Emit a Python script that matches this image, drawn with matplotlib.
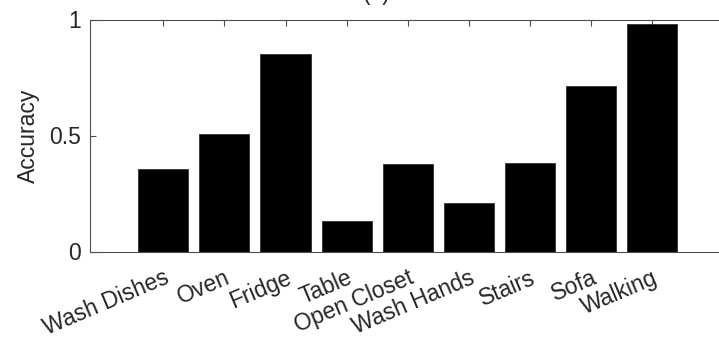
import matplotlib
matplotlib.use("Agg")
import matplotlib.pyplot as plt
import numpy as np

plt.rcParams['font.family'] = ['Liberation Sans', 'DejaVu Sans']

categories = ["Wash Dishes", "Oven", "Fridge", "Table", "Open Closet",
              "Wash Hands", "Stairs", "Sofa", "Walking"]
accuracy = [0.354, 0.505, 0.851, 0.133, 0.377, 0.209, 0.380, 0.715, 0.982]
yticks = [0, 0.5, 1]
yticklabels = ["0", "0.5", "1"]

W, H = 719, 339
fig = plt.figure(figsize=(W / 100, H / 100), dpi=100)
fig.patch.set_facecolor('white')

ax_left, ax_right = 90, 725.4
ax_top, ax_bottom = 19.5, 251.5
ax = fig.add_axes([ax_left / W, (H - ax_bottom) / H,
                   (ax_right - ax_left) / W, (ax_bottom - ax_top) / H])

x = np.arange(1, len(categories) + 1)
ax.bar(x, accuracy, width=0.82, color='black', edgecolor='#303030', linewidth=0.6, zorder=2)

ax.set_xlim(-0.2, 10.2)
ax.set_ylim(0, 1)
ax.set_yticks(yticks)
ax.set_yticklabels(yticklabels)
ax.set_xticks(x)
ax.set_xticklabels(categories, rotation=23, ha='right', va='top',
                   rotation_mode='anchor', fontsize=16.5)

gray = '#262626'
for s in ax.spines.values():
    s.set_color('#4d4d4d')
    s.set_linewidth(0.8)
ax.tick_params(axis='both', direction='in', length=4.3, width=0.8,
               color='#4d4d4d', labelcolor=gray)
ax.tick_params(axis='y', labelsize=16.5)
ax.tick_params(axis='x', top=True, bottom=True, pad=10.5)
ax.tick_params(axis='y', left=True, right=True, pad=6.5)

ax.set_ylabel("Accuracy", fontsize=16.5, color=gray, va='center')
ax.yaxis.set_label_coords((28 - ax_left) / (ax_right - ax_left), 0.5)

# title, mostly cut off at the top of the picture (as in the reference)
fig.text(376 / W, 1.0, "(a)", ha='center', va='baseline', fontsize=16.5, color=gray)

fig.savefig("out.png", dpi=100, facecolor='white')
